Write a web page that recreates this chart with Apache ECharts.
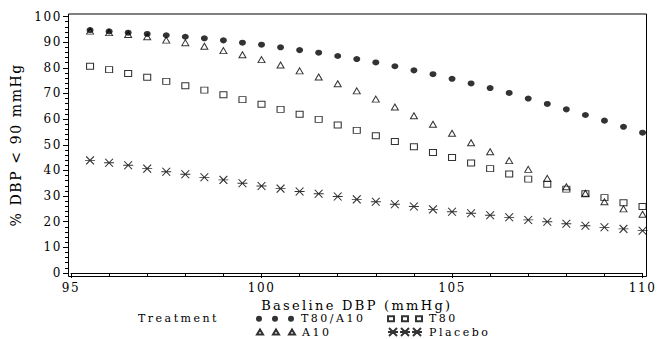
<!DOCTYPE html>
<html>
<head>
<meta charset="utf-8">
<script src="https://cdn.jsdelivr.net/npm/echarts@6/dist/echarts.min.js"></script>
<style>
html,body{margin:0;padding:0;background:#fff;}
#chart{width:657px;height:339px;}
#chart svg text{letter-spacing:1.6px;}
</style>
</head>
<body>
<div id="chart"></div>
<script>
const baselineDBP = [95.5,96,96.5,97,97.5,98,98.5,99,99.5,100,100.5,101,101.5,102,102.5,103,103.5,104,104.5,105,105.5,106,106.5,107,107.5,108,108.5,109,109.5,110];
const t80a10 = [94.7,94.2,93.7,93.2,92.7,92.1,91.5,90.7,89.8,89.0,88.0,86.9,85.9,84.6,83.4,82.1,80.6,79.0,77.5,75.7,73.9,72.1,70.2,68.0,65.9,63.8,61.6,59.4,57.0,54.7];
const t80 = [80.6,79.3,77.8,76.3,74.7,73.0,71.3,69.5,67.6,65.8,63.8,61.9,59.9,57.7,55.6,53.5,51.3,49.2,47.0,45.0,42.9,40.7,38.6,36.6,34.6,32.7,30.9,29.4,27.4,25.9];
const a10 = [94.3,93.7,93.0,92.1,90.8,89.8,88.4,86.7,85.1,83.2,81.1,78.8,76.4,73.8,71.0,67.8,64.7,61.3,58.0,54.5,50.8,47.3,43.8,40.4,36.9,33.6,31.1,27.8,25.0,22.9];
const placebo = [43.9,43.0,42.0,40.7,39.5,38.5,37.3,36.3,35.0,33.9,32.9,31.8,30.9,29.8,28.7,27.8,26.8,25.9,24.8,23.9,23.3,22.5,21.7,20.7,20.0,19.2,18.4,17.8,17.2,16.5];
const seriesNames = ['T80/A10','T80','A10','Placebo'];
const legendTitle = 'Treatment';
const xTitle = 'Baseline DBP (mmHg)';
const yTitle = '% DBP < 90 mmHg';
const xTickMin = 95, xTickMax = 110, xTickStep = 5;
const yTickMin = 0, yTickMax = 100, yTickStep = 10;

const W = 657, H = 339;
const GL = 71, GR = 14, GT = 16.5, GB = 66, OFF = 3;
const FONT = 'DejaVu Serif';
const pairs = vals => baselineDBP.map((x, i) => [x, vals[i]]);

const asteriskPath = 'path://M0,4L9,4M1,0L8,8M8,0L1,8';
const circles3 = 'path://M0,3a3,3 0 1,0 6,0a3,3 0 1,0 -6,0M16,3a3,3 0 1,0 6,0a3,3 0 1,0 -6,0M32,3a3,3 0 1,0 6,0a3,3 0 1,0 -6,0';
const squares3 = 'path://M0,0h6v5h-6zM14,0h6v5h-6zM28,0h6v5h-6z';
const triangles3 = 'path://M3,0L6,5L0,5zM19,0L22,5L16,5zM35,0L38,5L32,5z';
const asterisks3 = 'path://M0,4L10,4M1,0L9,8M9,0L1,8M12,4L22,4M13,0L21,8M21,0L13,8M24,4L34,4M25,0L33,8M33,0L25,8';

const chart = echarts.init(document.getElementById('chart'), null, {renderer: 'svg'});
const axisCommon = {
  axisLine: {show: true, lineStyle: {color: '#000', width: 1}},
  axisTick: {show: true, length: 5, lineStyle: {color: '#000'}},
  minorTick: {show: true, splitNumber: 5, length: 3, lineStyle: {color: '#000'}},
  splitLine: {show: false},
  axisLabel: {color: '#000', fontFamily: FONT, fontSize: 12, lineHeight: 12},
  nameTextStyle: {color: '#000', fontFamily: FONT, fontSize: 14, lineHeight: 12}
};
const legendText = {fontFamily: FONT, fontSize: 11, lineHeight: 12, color: '#000'};
function oneLegend(name, icon, left, top, iw, ih) {
  return {orient: 'horizontal', left: left, top: top, padding: 0, itemGap: 0, itemWidth: iw, itemHeight: ih,
          selectedMode: false, data: [{name: name, icon: icon}], textStyle: Object.assign({padding: [0, 0, 0, 2]}, legendText)};
}
chart.setOption({
  animation: false,
  backgroundColor: '#fff',
  textStyle: {fontFamily: FONT},
  title: {text: legendTitle, left: 138, top: 312.8, padding: 0,
          textStyle: {fontFamily: FONT, fontSize: 11, lineHeight: 12, fontWeight: 'normal', color: '#000'}},
  grid: {left: GL, right: GR, top: GT, bottom: GB, containLabel: false},
  xAxis: Object.assign({}, axisCommon, {
    type: 'value', min: xTickMin, max: xTickMax, interval: xTickStep, offset: OFF,
    name: xTitle, nameLocation: 'middle', nameGap: 21.5,
    nameTextStyle: Object.assign({}, axisCommon.nameTextStyle, {fontSize: 13}),
    axisLabel: Object.assign({}, axisCommon.axisLabel, {margin: 6})
  }),
  yAxis: Object.assign({}, axisCommon, {
    type: 'value', min: yTickMin, max: yTickMax, interval: yTickStep, offset: OFF,
    name: yTitle, nameLocation: 'middle', nameRotate: 90, nameGap: 46,
    axisLabel: Object.assign({}, axisCommon.axisLabel, {margin: 6})
  }),
  legend: [
    oneLegend(seriesNames[0], circles3, 256, 312.8, 38, 6),
    oneLegend(seriesNames[2], triangles3, 256, 326, 38, 5),
    oneLegend(seriesNames[1], squares3, 387, 312.8, 34, 5),
    oneLegend(seriesNames[3], asterisks3, 387, 326, 34, 8)
  ],
  graphic: [{
    type: 'rect', silent: true, z: 10,
    shape: {x: GL - OFF + 0.5, y: GT - OFF + 0.5, width: W - GL - GR + 2 * OFF, height: H - GT - GB + 2 * OFF},
    style: {fill: 'none', stroke: '#000', lineWidth: 1}
  }],
  series: [
    {name: seriesNames[0], type: 'scatter', data: pairs(t80a10), symbol: 'circle', symbolSize: [7, 6],
     itemStyle: {color: '#000'}},
    {name: seriesNames[1], type: 'scatter', data: pairs(t80), symbol: 'rect', symbolSize: [7, 6],
     itemStyle: {color: 'rgba(0,0,0,0)', borderColor: '#000', borderWidth: 1}},
    {name: seriesNames[2], type: 'scatter', data: pairs(a10), symbol: 'triangle', symbolSize: [7, 6],
     itemStyle: {color: 'rgba(0,0,0,0)', borderColor: '#000', borderWidth: 1}},
    {name: seriesNames[3], type: 'scatter', data: pairs(placebo), symbol: asteriskPath, symbolSize: [10, 8],
     itemStyle: {color: 'rgba(0,0,0,0)', borderColor: '#000', borderWidth: 1}}
  ]
});
function widenText() {
  const wide = seriesNames.concat([legendTitle]);
  document.querySelectorAll('#chart svg text').forEach(t => {
    const s = t.textContent.trim();
    if (wide.indexOf(s) >= 0) t.style.letterSpacing = '2.5px';
    else if (s === xTitle) t.style.letterSpacing = '2.3px';
  });
}
chart.on('finished', widenText);
widenText();
</script>
</body>
</html>
